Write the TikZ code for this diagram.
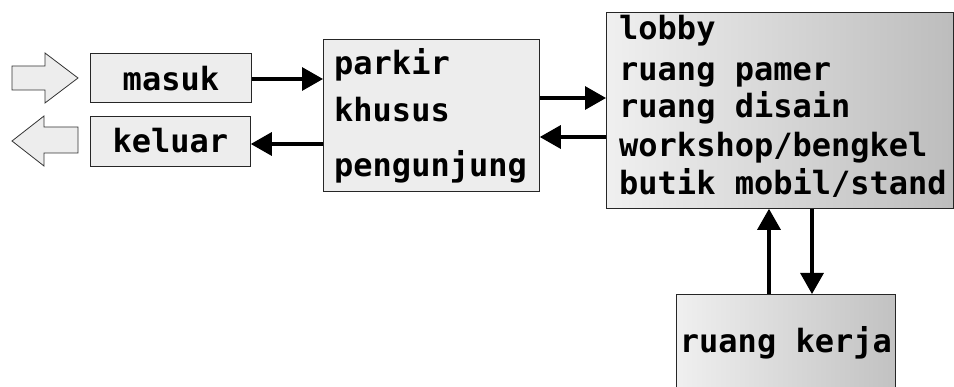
\documentclass[tikz,border=0pt]{standalone}
\usepackage{fontspec}
\setmonofont{DejaVu Sans Mono}
\usetikzlibrary{arrows.meta}
\begin{document}
\begin{tikzpicture}[x=1pt,y=-1pt,
  box/.style={draw=black!85, line width=0.8pt, inner sep=0pt, anchor=north west,
    font=\ttfamily\bfseries\fontsize{32}{38}\selectfont},
  lightfill/.style={fill=black!7},
  txt/.style={font=\ttfamily\bfseries\fontsize{32}{38}\selectfont, inner sep=0pt, anchor=base west},
  conn/.style={line width=3.2pt, -{Triangle[length=21pt,width=23pt]}},
  hollow/.style={draw=black!80, line width=0.8pt, fill=black!7, line join=miter}
]
\useasboundingbox (0,0) rectangle (954,387);
\clip (0,0) rectangle (954,387);

% entry and exit arrows
\draw[hollow] (12,66) -- (45,66) -- (45,53) -- (78,78) -- (45,103) -- (45,90) -- (12,90) -- cycle;
\draw[hollow] (78,127) -- (44,127) -- (44,116) -- (12,141) -- (44,166) -- (44,153) -- (78,153) -- cycle;

% gate boxes
\node[box, lightfill, minimum width=161pt, text height=37pt, text depth=12pt] (masuk) at (90,53) {masuk};
\node[box, lightfill, minimum width=160pt, text height=36pt, text depth=14pt] (keluar) at (90,116) {keluar};

% visitor parking
\node[box, lightfill, minimum width=216pt, minimum height=152pt] (parkir) at (323,39) {};
\node[txt] (parkirA) at (334,75) {parkir};
\node[txt] (parkirB) at (334,122) {khusus};
\node[txt] (parkirC) at (334,177) {pengunjung};

% main facilities
\node[box, left color=black!6, right color=black!26, minimum width=347pt, minimum height=196pt] (fasil) at (606,12) {};
\node[txt] (fasilA) at (619,40) {lobby};
\node[txt] (fasilB) at (619,81) {ruang pamer};
\node[txt] (fasilC) at (619,118) {ruang disain};
\node[txt] (fasilD) at (619,157) {workshop/bengkel};
\node[txt] (fasilE) at (619,195) {butik mobil/stand};

% work room
\node[box, left color=black!6, right color=black!24, minimum width=219pt, text height=58pt, text depth=40pt] (kerja) at (676,294) {ruang kerja};

% connectors
\coordinate (inY) at (0,79);
\coordinate (outY) at (0,144);
\coordinate (toY) at (0,98);
\coordinate (backY) at (0,137);
\coordinate (upX) at (769,0);
\coordinate (downX) at (812,0);
\draw[conn] (masuk.east |- inY) -- (parkir.west |- inY);
\draw[conn] (parkir.west |- outY) -- (keluar.east |- outY);
\draw[conn] (parkir.east |- toY) -- (fasil.west |- toY);
\draw[conn] (fasil.west |- backY) -- (parkir.east |- backY);
\draw[conn] (upX |- kerja.north) -- (upX |- fasil.south);
\draw[conn] (downX |- fasil.south) -- (downX |- kerja.north);
\end{tikzpicture}
\end{document}
